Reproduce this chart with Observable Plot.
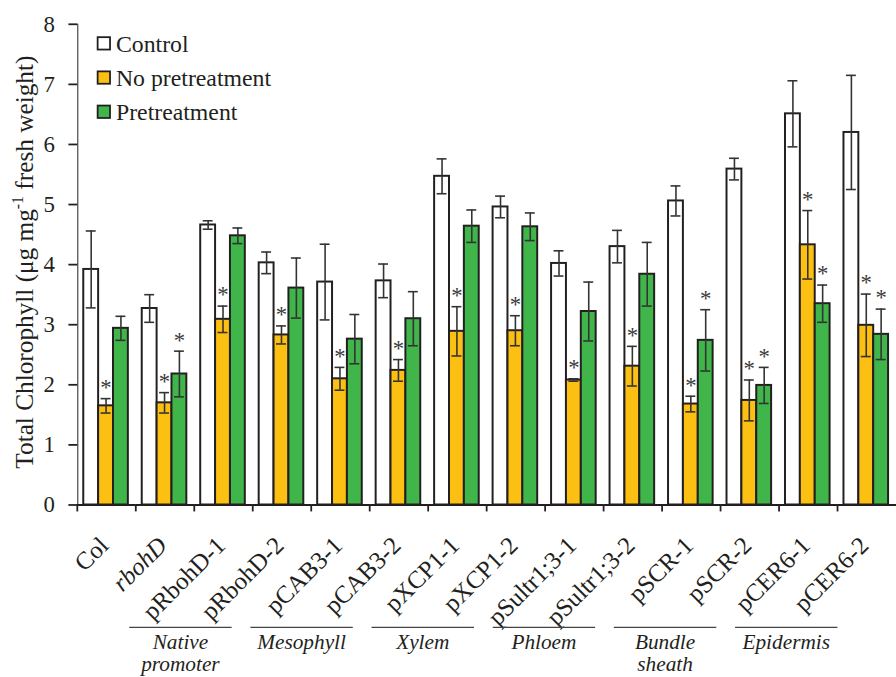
<!DOCTYPE html>
<html>
<head>
<meta charset="utf-8">
<script src="https://cdn.jsdelivr.net/npm/d3@7"></script>
<script src="https://cdn.jsdelivr.net/npm/@observablehq/plot@0.6"></script>
<style>
  html, body { margin: 0; padding: 0; background: #fff; }
  #wrap { width: 896px; height: 677px; overflow: hidden; position: relative; }
</style>
</head>
<body>
<div id="wrap"></div>
<script>
const lines = ["Col","rbohD","pRbohD-1","pRbohD-2","pCAB3-1","pCAB3-2","pXCP1-1","pXCP1-2","pSultr1;3-1","pSultr1;3-2","pSCR-1","pSCR-2","pCER6-1","pCER6-2"];
const treatments = ["Control","No pretreatment","Pretreatment"];
const control    = [3.92,3.27,4.66,4.03,3.71,3.73,5.47,4.96,4.02,4.30,5.06,5.59,6.51,6.20];
const controlErr = [0.64,0.23,0.07,0.18,0.63,0.28,0.29,0.18,0.21,0.27,0.25,0.18,0.55,0.95];
const noPre      = [1.65,1.70,3.09,2.83,2.10,2.24,2.89,2.90,2.08,2.31,1.68,1.74,4.33,2.99];
const noPreErr   = [0.12,0.17,0.22,0.15,0.19,0.18,0.41,0.25,0.02,0.33,0.13,0.34,0.57,0.52];
const pre        = [2.94,2.18,4.48,3.61,2.76,3.10,4.64,4.63,3.22,3.84,2.74,1.99,3.35,2.84];
const preErr     = [0.20,0.38,0.13,0.50,0.41,0.45,0.27,0.23,0.49,0.53,0.51,0.30,0.31,0.42];
const noPreSig   = [1,1,1,1,1,1,1,1,1,1,1,1,1,1];
const preSig     = [0,1,0,0,0,0,0,0,0,0,1,1,1,1];
const groupNames = [["Native","promoter"],["Mesophyll"],["Xylem"],["Phloem"],["Bundle","sheath"],["Epidermis"]];
const groupFirst = ["pRbohD-1","pCAB3-1","pXCP1-1","pSultr1;3-1","pSCR-1","pCER6-1"];
const groupLast  = ["pRbohD-2","pCAB3-2","pXCP1-2","pSultr1;3-2","pSCR-2","pCER6-2"];
const yTicks = [0,1,2,3,4,5,6,7,8];
const colors = ["#ffffff","#fcc013","#3fb54a"];

const data = lines.flatMap((l, i) => [
  {line: l, treatment: treatments[0], value: control[i], err: controlErr[i], sig: false},
  {line: l, treatment: treatments[1], value: noPre[i], err: noPreErr[i], sig: !!noPreSig[i]},
  {line: l, treatment: treatments[2], value: pre[i], err: preErr[i], sig: !!preSig[i]}
]);

const FONT = "'Liberation Serif', 'Times New Roman', serif";
const INK = "#231f20";

const plot = Plot.plot({
  width: 904,
  height: 677,
  marginLeft: 77,
  marginRight: 0,
  marginTop: 24,
  marginBottom: 168,
  style: {fontFamily: FONT, fontSize: "23px", color: INK, background: "white", overflow: "visible"},
  fx: {domain: lines, padding: 0, tickRotate: -45, tickSize: 0, tickPadding: 34, label: null},
  x: {domain: treatments, padding: 0, axis: null, insetLeft: 6, insetRight: 8},
  y: {domain: [0, 8], ticks: yTicks, tickSize: 9, tickPadding: 14, line: true, label: null, tickFormat: d => String(d)},
  color: {domain: treatments, range: colors},
  marks: [
    Plot.barY(data, {fx: "line", x: "treatment", y: "value", fill: "treatment", stroke: INK, strokeWidth: 2}),
    Plot.ruleX(data, {fx: "line", x: "treatment", y1: d => d.value - d.err, y2: d => d.value + d.err, stroke: "#333", strokeWidth: 1.6}),
    Plot.tickY(data, {fx: "line", x: "treatment", y: d => d.value - d.err, insetLeft: 2.5, insetRight: 2.5, stroke: "#333", strokeWidth: 1.6}),
    Plot.tickY(data, {fx: "line", x: "treatment", y: d => d.value + d.err, insetLeft: 2.5, insetRight: 2.5, stroke: "#333", strokeWidth: 1.6}),
    Plot.text(data.filter(d => d.sig), {fx: "line", x: "treatment", y: d => d.value + d.err, dy: -11, text: () => "*", fontSize: 23, fill: "#3a3a3a"}),
    Plot.ruleY([0], {stroke: INK, strokeWidth: 2})
  ]
});

document.getElementById("wrap").appendChild(plot);

const svg = d3.select(plot);
// x tick labels: size, offset, italic genotype
svg.selectAll("[aria-label='fx-axis tick label'] text").style("font-size", "25px").attr("dx", -4);
svg.selectAll("text").filter(function() { return d3.select(this).text() === "rbohD"; }).style("font-style", "italic");
svg.selectAll("[aria-label='y-axis tick'] path, [aria-label='y-axis line'] line, [aria-label='y-axis line'] path").attr("stroke-width", 1.8);

const fxs = plot.scale("fx");
const ys = plot.scale("y");
const fxStart = v => fxs.apply(v);
const bw = fxs.bandwidth;
const y0 = ys.apply(0);
const xMid = (fxs.range[0] + fxs.range[1]) / 2;
const stretch = 1.036;
const sx = x => xMid + (x - xMid) * stretch;

const g = svg.append("g").attr("text-anchor", "start");
// boundary ticks below the x axis
lines.forEach(l => {
  g.append("line").attr("x1", fxStart(l)).attr("x2", fxStart(l))
    .attr("y1", y0).attr("y2", y0 + 7).attr("stroke", INK).attr("stroke-width", 1.8);
});

// group underlines and labels
groupNames.forEach((name, i) => {
  const c1 = fxStart(groupFirst[i]) + bw / 2;
  const c2 = fxStart(groupLast[i]) + bw / 2;
  const xa = sx(c1 - 1.4 * bw), xb = sx(c2 - 0.71 * bw);
  g.append("line").attr("x1", xa).attr("x2", xb).attr("y1", y0 + 124).attr("y2", y0 + 124)
    .attr("stroke", "#444").attr("stroke-width", 1.2);
  name.forEach((s, k) => {
    g.append("text").attr("x", (xa + xb) / 2).attr("y", y0 + 146 + k * 22)
      .attr("text-anchor", "middle").style("font-style", "italic").style("font-size", "21.5px")
      .attr("fill", INK).text(s);
  });
});

// y axis title with superscript
const yMid = (ys.apply(0) + ys.apply(8)) / 2;
const yt = g.append("text").attr("transform", `translate(33,${yMid - 2}) rotate(-90)`)
  .attr("text-anchor", "middle").style("font-size", "25.5px").attr("fill", INK);
yt.append("tspan").text("Total Chlorophyll (μg mg");
yt.append("tspan").attr("dy", -10).style("font-size", "16px").text("-1");
yt.append("tspan").attr("dy", 10).text(" fresh weight)");

// legend
const leg = g.append("g");
treatments.forEach((t, i) => {
  const cy = 44 + i * 34.5;
  leg.append("rect").attr("x", 98.5).attr("y", cy - 6.5).attr("width", 12.5).attr("height", 12.5)
    .attr("fill", colors[i]).attr("stroke", INK).attr("stroke-width", 1.8);
  leg.append("text").attr("x", 117).attr("y", cy + 8.5).attr("text-anchor", "start")
    .style("font-size", "24px").attr("fill", INK).text(t);
});
</script>
</body>
</html>
